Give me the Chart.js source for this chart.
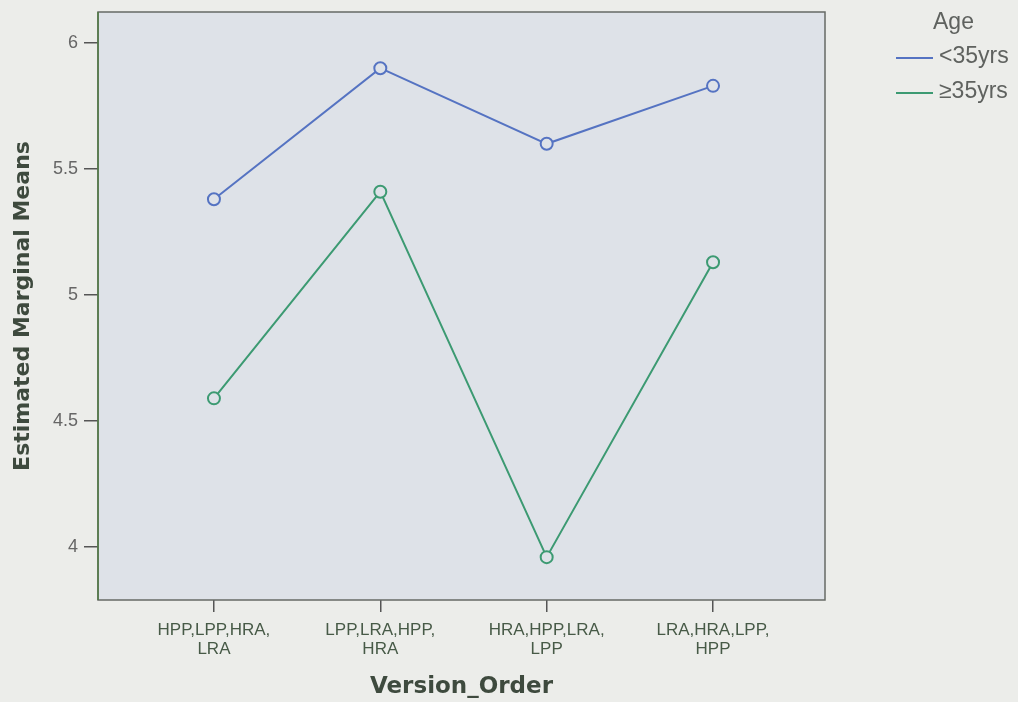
<!DOCTYPE html>
<html>
<head>
<meta charset="utf-8">
<script src="https://cdn.jsdelivr.net/npm/chart.js@4"></script>
<style>
  html, body { margin: 0; padding: 0; background: #ecedea; }
  #wrap { width: 1018px; height: 702px; }
</style>
</head>
<body>
<div id="wrap"><canvas id="meansChart" width="1018" height="702"></canvas></div>
<script>
// categories on the x axis (each label split in two lines)
const versionOrders = [
    ['HPP,LPP,HRA,', 'LRA'],
    ['LPP,LRA,HPP,', 'HRA'],
    ['HRA,HPP,LRA,', 'LPP'],
    ['LRA,HRA,LPP,', 'HPP']
];
const legendTitle = 'Age';
const seriesNames = ['<35yrs', '\u226535yrs'];
const under35 = [5.38, 5.90, 5.60, 5.83];
const over35 = [4.59, 5.41, 3.96, 5.13];
const yTicks = [4, 4.5, 5, 5.5, 6];
const xTicks = [0, 1, 2, 3];

const blue = '#5573c2';
const green = '#3c9a72';
const plotBg = '#dee2e8';

// coloured plot area + frame + legend
const frame = {
    id: 'frame',
    beforeDraw(chart) {
        const { ctx, chartArea: a } = chart;
        ctx.save();
        ctx.fillStyle = plotBg;
        ctx.fillRect(a.left, a.top, a.right - a.left, a.bottom - a.top);
        ctx.restore();
    },
    afterDatasetsDraw(chart) {
        const { ctx, chartArea: a } = chart;
        ctx.save();
        ctx.lineWidth = 1.5;
        ctx.strokeStyle = '#666a66';
        ctx.strokeRect(a.left, a.top, a.right - a.left, a.bottom - a.top);
        ctx.strokeStyle = '#4f7a43';
        ctx.beginPath();
        ctx.moveTo(a.left, a.top);
        ctx.lineTo(a.left, a.bottom);
        ctx.stroke();

        // legend
        ctx.fillStyle = '#5f625f';
        ctx.font = '23px "Liberation Sans", Arial, sans-serif';
        ctx.textBaseline = 'middle';
        ctx.textAlign = 'left';
        ctx.fillText(legendTitle, 933, 23);
        chart.data.datasets.forEach((ds, i) => {
            const y = 58 + i * 35;
            ctx.strokeStyle = ds.borderColor;
            ctx.lineWidth = 2;
            ctx.beginPath();
            ctx.moveTo(896, y);
            ctx.lineTo(933, y);
            ctx.stroke();
            ctx.fillStyle = '#5f625f';
            ctx.fillText(ds.label, 939, y - 1);
        });
        ctx.restore();
    }
};

const ctx = document.getElementById('meansChart').getContext('2d');
const meansChart = new Chart(ctx, {
    type: 'line',
    data: {
        datasets: [
            {
                label: seriesNames[0],
                data: under35.map((v, i) => ({ x: xTicks[i], y: v })),
                borderColor: blue,
                borderWidth: 2,
                pointRadius: 6,
                pointBorderWidth: 2,
                pointBorderColor: blue,
                pointBackgroundColor: plotBg,
                tension: 0
            },
            {
                label: seriesNames[1],
                data: over35.map((v, i) => ({ x: xTicks[i], y: v })),
                borderColor: green,
                borderWidth: 2,
                pointRadius: 6,
                pointBorderWidth: 2,
                pointBorderColor: green,
                pointBackgroundColor: plotBg,
                tension: 0
            }
        ]
    },
    plugins: [frame],
    options: {
        responsive: false,
        animation: false,
        layout: { padding: { left: 0, top: 12, right: 193, bottom: 0 } },
        plugins: {
            legend: { display: false },
            tooltip: { enabled: false }
        },
        scales: {
            x: {
                type: 'linear',
                min: -0.697,
                max: 3.673,
                afterBuildTicks: s => { s.ticks = xTicks.map(v => ({ value: v })); },
                afterFit: s => { s.height = 102; s.paddingLeft = 0; s.paddingRight = 0; },
                border: { display: false },
                grid: { drawOnChartArea: false, drawTicks: true, tickLength: 12, color: '#555', lineWidth: 1.5 },
                ticks: {
                    padding: 9,
                    color: '#475a47',
                    font: { family: '"Liberation Sans", Arial, sans-serif', size: 17, lineHeight: 1.1 },
                    maxRotation: 0,
                    callback: v => versionOrders[v]
                },
                title: {
                    display: true,
                    text: 'Version_Order',
                    color: '#3e4a3e',
                    font: { family: '"DejaVu Sans", sans-serif', size: 23, weight: 'bold' },
                    padding: { top: 0, bottom: 1 }
                }
            },
            y: {
                min: 3.79,
                max: 6.123,
                afterBuildTicks: s => { s.ticks = yTicks.map(v => ({ value: v })); },
                afterFit: s => { s.width = 98; s.paddingTop = 0; s.paddingBottom = 0; },
                border: { display: false },
                grid: { drawOnChartArea: false, drawTicks: true, tickLength: 14, color: '#555', lineWidth: 1.5 },
                ticks: {
                    padding: 6,
                    color: '#666',
                    font: { family: '"Liberation Sans", Arial, sans-serif', size: 18 },
                    callback: v => String(v)
                },
                title: {
                    display: true,
                    text: 'Estimated Marginal Means',
                    color: '#3e4a3e',
                    font: { family: '"DejaVu Sans", sans-serif', size: 22, weight: 'bold' },
                    padding: { top: 10, bottom: 0 }
                }
            }
        }
    }
});
</script>
</body>
</html>
